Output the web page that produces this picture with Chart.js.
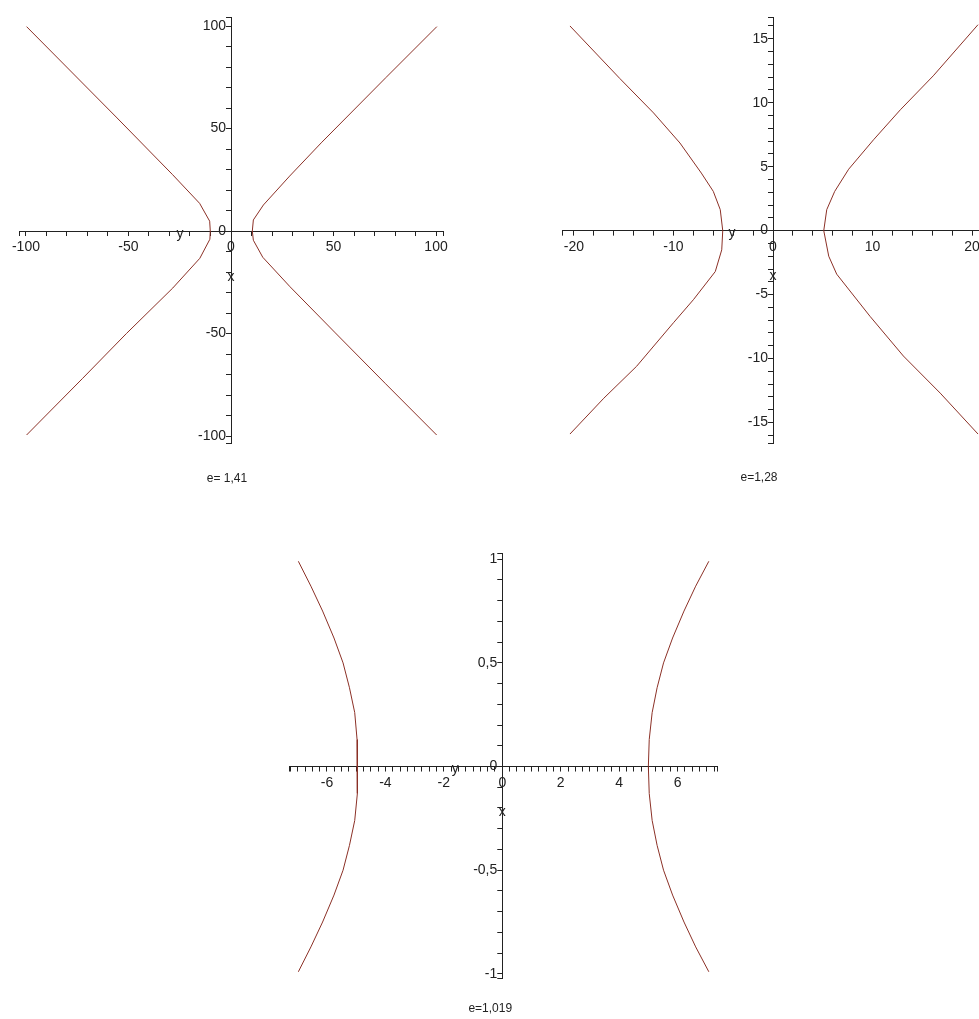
<!DOCTYPE html>
<html>
<head>
<meta charset="utf-8">
<title>Hyperboles</title>
<script src="https://cdn.jsdelivr.net/npm/chart.js@4.4.1/dist/chart.umd.min.js"></script>
<style>
  html, body { margin: 0; padding: 0; background: #fff; }
  body { position: relative; width: 979px; height: 1019px; overflow: hidden; }
  canvas { position: absolute; }
</style>
</head>
<body>
<canvas id="h1"></canvas>
<canvas id="h2"></canvas>
<canvas id="h3"></canvas>
<script>
// e = 1,41 : branches listed from upper end to lower end
const h1RightX = [100.4, 75.6, 44, 28.6, 15.8, 10.9, 10.4, 10.9, 15.5, 28.8, 50.5, 75.4, 100.3];
const h1RightY = [99.7, 74.9, 43, 26.8, 12.7, 5.4, 0, -4.5, -12.8, -27.2, -49.3, -74.5, -99.5];
const h1LeftX = [-99.7, -56, -28.5, -15.3, -10.4, -10.1, -10.3, -15.2, -28.4, -51, -72.5, -99.7];
const h1LeftY = [99.7, 55.6, 27.5, 13.5, 4.8, 0, -4, -13.3, -27.8, -50, -72, -99.5];

// e = 1,28
const h2RightX = [20.6, 16.1, 12.8, 10.1, 7.6, 6.2, 5.4, 5.1, 5.6, 6.4, 9.75, 13.1, 16.8, 20.6];
const h2RightY = [16.1, 12.1, 9.45, 7.1, 4.8, 3.07, 1.64, 0, -2.0, -3.4, -6.7, -9.8, -12.7, -15.9];
const h2LeftX = [-20.4, -15.4, -12.0, -9.35, -7.2, -6.0, -5.3, -5.05, -5.15, -5.8, -8.0, -10.0, -13.7, -17.0, -20.4];
const h2LeftY = [16.0, 11.9, 9.2, 6.85, 4.5, 3.07, 1.64, 0, -1.5, -3.2, -5.4, -7.2, -10.6, -13.1, -15.9];

// e = 1,019
const h3RightX = [7.07, 6.62, 6.22, 5.83, 5.52, 5.3, 5.13, 5.03, 5.0, 5.03, 5.13, 5.3, 5.52, 5.83, 6.22, 6.62, 7.07];
const h3RightY = [0.99, 0.87, 0.75, 0.62, 0.5, 0.38, 0.26, 0.13, 0, -0.13, -0.26, -0.38, -0.5, -0.62, -0.75, -0.87, -0.99];
const h3LeftX = [-6.98, -6.55, -6.15, -5.76, -5.45, -5.23, -5.05, -4.97, -4.95, -4.97, -5.05, -5.23, -5.45, -5.76, -6.15, -6.55, -6.98];
const h3LeftY = [0.99, 0.87, 0.75, 0.62, 0.5, 0.38, 0.26, 0.13, 0, -0.13, -0.26, -0.38, -0.5, -0.62, -0.75, -0.87, -0.99];

// labelled ticks on each axis
const h1TicksX = [-100, -50, 0, 50, 100];
const h1TicksY = [-100, -50, 0, 50, 100];
const h2TicksX = [-20, -10, 0, 10, 20];
const h2TicksY = [-15, -10, -5, 0, 5, 10, 15];
const h3TicksX = [-6, -4, -2, 0, 2, 4, 6];
const h3TicksY = [-1, -0.5, 0, 0.5, 1];

const captions = ['e= 1,41', 'e=1,28', 'e=1,019'];

const FONT = '"Liberation Sans", Arial, sans-serif';
const INK = '#222';
const CURVE = '#8b3026';

function pts(xs, ys) {
  return xs.map((x, i) => ({x: x, y: ys[i]}));
}

function fmt(v) {
  return String(v).replace('.', ',');
}

// minor ticks every `step`, plus the two ends of the axis
function tickBuilder(step) {
  return function (scale) {
    const vals = [scale.min];
    let k = Math.ceil(scale.min / step - 1e-9);
    for (; k * step <= scale.max + 1e-9; k++) {
      const v = Math.round(k * step * 1000) / 1000;
      if (v > scale.min + 1e-6 && v < scale.max - 1e-6) vals.push(v);
    }
    vals.push(scale.max);
    scale.ticks = vals.map(v => ({value: v}));
  };
}

// axes cross at the origin; names and caption around it
const crossAxes = {
  id: 'crossAxes',
  afterLayout(chart) {
    const sx = chart.scales.x, sy = chart.scales.y;
    const ox = sx.getPixelForValue(0);
    const oy = sy.getPixelForValue(0);
    sy.left = 0;
    sy.right = ox;
    sx.top = oy;
    sx.bottom = chart.height;
  },
  afterDraw(chart, args, opts) {
    const ctx = chart.ctx;
    const ox = chart.scales.x.getPixelForValue(0);
    const oy = chart.scales.y.getPixelForValue(0);
    ctx.save();
    ctx.fillStyle = INK;
    ctx.textAlign = 'center';
    ctx.textBaseline = 'middle';
    ctx.font = '14px ' + FONT;
    ctx.fillText('y', ox + opts.yNameDx, oy + 3);
    ctx.fillText('x', ox, oy + 46);
    ctx.font = '12px ' + FONT;
    ctx.fillText(opts.caption, ox + opts.captionDx, oy + opts.captionDy);
    ctx.restore();
  }
};

function axis(min, max, step, labelled, pad) {
  return {
    type: 'linear',
    min: min,
    max: max,
    grid: {drawOnChartArea: false, drawTicks: true, tickLength: 5, tickColor: INK, tickWidth: 1},
    border: {display: true, color: INK, width: 1},
    afterBuildTicks: tickBuilder(step),
    afterFit(scale) {
      if (scale.isHorizontal()) scale.height = 0; else scale.width = 0;
    },
    ticks: {
      autoSkip: false,
      maxRotation: 0,
      minRotation: 0,
      padding: pad,
      color: INK,
      font: {family: FONT, size: 14},
      callback: v => labelled.some(t => Math.abs(t - v) < 1e-6) ? fmt(v) : ''
    }
  };
}

function plot(id, box, area, xr, yr, branches, ticks, marks) {
  const cv = document.getElementById(id);
  cv.width = box.w;
  cv.height = box.h;
  cv.style.left = box.left + 'px';
  cv.style.top = box.top + 'px';
  const xAxis = axis(xr[0], xr[1], xr[2], ticks[0], 3);
  xAxis.position = 'bottom';
  const yAxis = axis(yr[0], yr[1], yr[2], ticks[1], 0);
  yAxis.position = 'left';
  new Chart(cv, {
    type: 'scatter',
    data: {
      datasets: branches.map(b => ({
        data: b,
        showLine: true,
        borderColor: CURVE,
        borderWidth: 1,
        pointRadius: 0,
        tension: 0
      }))
    },
    options: {
      responsive: false,
      animation: false,
      layout: {
        padding: {
          left: area.l - box.left,
          top: area.t - box.top,
          right: box.left + box.w - area.r,
          bottom: box.top + box.h - area.b
        }
      },
      scales: {x: xAxis, y: yAxis},
      plugins: {
        legend: {display: false},
        tooltip: {enabled: false},
        crossAxes: marks
      }
    },
    plugins: [crossAxes]
  });
}

plot('h1',
  {left: 0, top: 0, w: 470, h: 500},
  {l: 19, t: 17, r: 443, b: 443},
  [-103.4, 103.4, 10], [-103.4, 104.4, 10],
  [pts(h1RightX, h1RightY), pts(h1LeftX, h1LeftY)],
  [h1TicksX, h1TicksY],
  {yNameDx: -51, captionDx: -4, captionDy: 248, caption: captions[0]});

plot('h2',
  {left: 520, top: 0, w: 470, h: 500},
  {l: 562, t: 17, r: 984, b: 443},
  [-21.2, 21.2, 2], [-16.6, 16.7, 1],
  [pts(h2RightX, h2RightY), pts(h2LeftX, h2LeftY)],
  [h2TicksX, h2TicksY],
  {yNameDx: -41, captionDx: -14, captionDy: 247, caption: captions[1]});

plot('h3',
  {left: 250, top: 520, w: 500, h: 499},
  {l: 289, t: 553, r: 717, b: 978},
  [-7.3, 7.35, 0.25], [-1.02, 1.03, 0.1],
  [pts(h3RightX, h3RightY), pts(h3LeftX, h3LeftY)],
  [h3TicksX, h3TicksY],
  {yNameDx: -47, captionDx: -12, captionDy: 242, caption: captions[2]});
</script>
</body>
</html>
